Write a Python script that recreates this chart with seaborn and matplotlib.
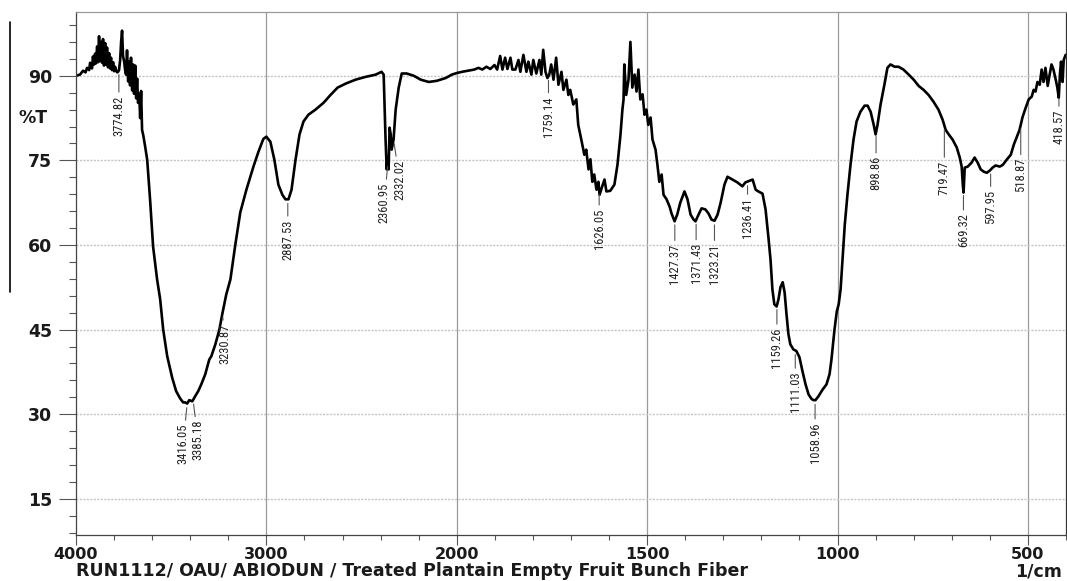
import numpy as np
import pandas as pd
import matplotlib
matplotlib.use("Agg")
import matplotlib.pyplot as plt
from matplotlib.lines import Line2D
from matplotlib.ticker import FixedLocator, NullFormatter
from matplotlib import font_manager as fm
import seaborn as sns

# ---------------- data ----------------
wavenumber = [
    4000, 3979, 3963, 3950, 3942, 3931, 3926, 3916, 3911, 3905, 3900, 3895, 3889, 3884, 3879, 3874,
    3868, 3863, 3858, 3853, 3847, 3842, 3837, 3832, 3826, 3821, 3816, 3811, 3805, 3800, 3795, 3789,
    3784, 3779, 3774, 3768, 3763, 3758, 3753, 3747, 3742, 3737, 3732, 3726, 3721, 3716, 3711, 3705,
    3700, 3695, 3689, 3684, 3679, 3674, 3668, 3663, 3658, 3653,
    3647, 3637, 3626, 3611, 3595, 3574, 3558, 3542, 3521, 3495, 3474, 3453, 3437, 3426, 3416, 3405,
    3389, 3374, 3358, 3342, 3321, 3300, 3289, 3268, 3247, 3232, 3211, 3189, 3163, 3137, 3105, 3068,
    3042, 3016, 3000, 2979, 2958, 2937, 2916, 2900, 2884, 2868, 2847, 2826, 2805, 2779, 2742, 2700,
    2663, 2626, 2584, 2532, 2479, 2426, 2395, 2384, 2374, 2368, 2363, 2358, 2353, 2347, 2342, 2332,
    2321, 2305, 2289, 2263, 2226, 2189, 2147, 2105, 2058, 2026, 1999, 1986, 1970, 1954, 1943, 1933,
    1922, 1912, 1901, 1894, 1886, 1880, 1873, 1867, 1859, 1854, 1846, 1838, 1833, 1825, 1817, 1812,
    1804, 1799, 1791, 1783, 1778, 1773, 1767, 1762, 1757, 1752, 1746, 1739, 1733, 1725, 1720, 1712,
    1707, 1702, 1694, 1686, 1681, 1673, 1665, 1660, 1654, 1649, 1644, 1639, 1633, 1628, 1625, 1618,
    1612, 1607, 1597, 1586, 1578, 1570, 1565, 1562, 1560, 1555, 1549, 1544, 1539, 1533, 1528, 1523,
    1518, 1512, 1507, 1502, 1497, 1491, 1486, 1478, 1473, 1468, 1462, 1457, 1449, 1441, 1436, 1428,
    1421, 1413, 1402, 1394, 1386, 1378, 1373, 1365, 1357, 1347, 1339, 1331, 1323, 1315, 1307, 1297,
    1289, 1276, 1263, 1250, 1242, 1231, 1223, 1215, 1208, 1197, 1189, 1181, 1176, 1171, 1166, 1160,
    1155, 1150, 1144, 1139, 1134, 1129, 1124, 1116, 1108, 1100, 1092, 1084, 1076, 1068, 1063, 1058,
    1050, 1039, 1029, 1021, 1016, 1008, 1002, 997, 992, 987, 981, 974, 966, 958, 950, 940,
    929, 921, 913, 905, 900, 895, 887, 877, 869, 861, 850, 840, 827, 813, 800, 787,
    774, 761, 748, 735, 724, 716, 708, 698, 687, 679, 674, 671, 669, 666, 658, 648,
    640, 632, 624, 616, 608, 600, 593, 585, 574, 566, 556, 545, 537, 529, 522, 514,
    506, 498, 490, 485, 480, 475, 469, 464, 459, 454, 448, 443, 438, 433, 427, 423,
    419, 416, 413, 409, 406, 401,
]
transmittance = [
    90.0, 90.2, 90.9, 90.6, 91.4, 91.0, 92.3, 91.3, 93.4, 92.0, 93.9, 92.2, 95.2, 92.4, 97.0, 92.6,
    96.0, 92.3, 96.5, 91.8, 95.8, 92.0, 95.0, 91.5, 94.0, 91.3, 93.2, 91.0, 92.4, 90.8, 91.6, 90.9,
    90.6, 90.7, 91.0, 92.8, 96.0, 98.0, 93.5, 92.5, 91.0, 90.2, 94.5, 89.0, 92.5, 88.3, 93.2, 87.4,
    92.0, 86.8, 91.8, 86.0, 89.5, 85.2, 86.8, 82.5, 87.3, 80.4,
    79.5, 77.5, 75.1, 68.1, 59.7, 53.9, 50.4, 45.0, 40.3, 36.5, 34.1, 32.8, 32.1, 32.1, 31.9, 32.5,
    32.3, 33.2, 34.1, 35.3, 37.1, 39.7, 40.3, 42.4, 45.0, 47.7, 51.2, 53.9, 60.1, 65.8, 69.8, 73.9,
    76.5, 78.8, 79.2, 78.3, 75.1, 70.7, 68.9, 68.1, 68.1, 69.8, 75.1, 79.6, 81.9, 83.1, 84.0, 85.2,
    86.6, 87.9, 88.6, 89.3, 89.8, 90.2, 90.7, 90.2, 78.7, 73.4, 75.5, 73.4, 80.8, 79.6, 76.9, 78.7,
    84.0, 87.9, 90.4, 90.4, 90.0, 89.3, 88.9, 89.1, 89.6, 90.2, 90.5, 90.7, 90.9, 91.1, 91.4, 91.1,
    91.6, 91.2, 91.9, 91.1, 93.5, 91.1, 93.2, 91.2, 93.2, 91.1, 91.1, 92.8, 90.7, 93.7, 90.7, 92.5,
    90.2, 92.8, 90.4, 92.8, 90.2, 94.6, 90.7, 89.6, 90.2, 92.0, 89.3, 93.2, 88.4, 90.7, 87.5, 89.3,
    86.6, 87.5, 84.9, 85.8, 81.3, 78.7, 76.0, 76.9, 73.4, 75.2, 71.2, 72.5, 69.8, 71.2, 68.9, 70.4,
    71.6, 69.5, 69.6, 70.7, 74.2, 79.6, 84.0, 85.8, 92.0, 86.6, 89.3, 96.0, 87.9, 90.2, 87.2, 91.1,
    85.8, 86.7, 83.1, 84.0, 81.3, 82.6, 78.7, 76.9, 74.2, 71.2, 72.5, 68.9, 68.1, 66.8, 65.6, 64.2,
    65.4, 67.5, 69.5, 68.1, 65.4, 64.5, 64.2, 65.4, 66.5, 66.3, 65.6, 64.5, 64.3, 65.4, 67.5, 70.7,
    72.1, 71.6, 71.1, 70.4, 71.1, 71.4, 71.6, 69.8, 69.5, 69.1, 66.3, 61.0, 57.4, 52.1, 49.5, 49.1,
    50.4, 52.5, 53.4, 51.6, 47.7, 44.2, 42.4, 41.5, 41.2, 40.1, 37.6, 35.3, 33.5, 32.7, 32.5, 32.5,
    33.2, 34.4, 35.3, 37.1, 39.7, 45.0, 48.2, 49.5, 52.1, 57.4, 63.6, 68.9, 74.2, 78.7, 81.9, 83.6,
    84.7, 84.7, 83.6, 81.3, 79.6, 81.3, 84.9, 88.4, 91.4, 92.0, 91.6, 91.6, 91.1, 90.2, 89.3, 88.2,
    87.5, 86.6, 85.4, 84.0, 82.2, 80.4, 79.6, 78.7, 77.3, 75.5, 73.9, 70.7, 69.3, 73.7, 73.9, 74.6,
    75.5, 74.6, 73.4, 73.0, 72.8, 73.2, 73.7, 74.1, 73.9, 74.2, 75.1, 76.0, 77.8, 79.2, 80.4, 82.7,
    84.3, 85.8, 86.3, 87.5, 87.2, 88.9, 88.4, 91.1, 88.9, 91.4, 88.2, 90.2, 92.0, 91.1, 89.3, 88.0,
    86.1, 90.2, 92.5, 88.9, 92.8, 93.7,
]

peak_labels = ["3774.82", "3416.05", "3385.18", "3230.87", "2887.53", "2360.95", "2332.02",
               "1759.14", "1626.05", "1427.37", "1371.43", "1323.21", "1236.41", "1159.26",
               "1111.03", "1058.96", "898.86", "719.47", "669.32", "597.95", "518.87", "418.57"]

x_major_ticks = [4000, 3000, 2000, 1500, 1000, 500]
y_major_ticks = [15, 30, 45, 60, 75, 90]

x_title = "RUN1112/ OAU/ ABIODUN / Treated Plantain Empty Fruit Bunch Fiber"
x_unit = "1/cm"
y_title = "%T"

# label layout (pixel offsets: horizontal shift, gap below curve)
label_dx_px = [0, -4, 5, 3, 0, -4, 6, 0, 0, 0, 0, 0, 0, 0, 0, 0, 0, 0, 0, 0, 0, 0]
label_gap_px = [25, 20, 20, 10, 20, 20, 20, 20, 18, 23, 23, 23, 16, 22, 21, 22, 24, 35, 22, 20, 33, 15]


def pick_narrow_font():
    for fam in ["Liberation Sans Narrow", "Arial Narrow", "Roboto Condensed", "Open Sans Condensed"]:
        try:
            fm.findfont(fm.FontProperties(family=fam), fallback_to_default=False)
            return dict(family=fam), 9
        except Exception:
            pass
    try:
        path = fm.findfont(fm.FontProperties(family="DejaVu Sans", stretch="condensed"),
                           fallback_to_default=False)
        if "ondensed" in path:
            return dict(family="DejaVu Sans", stretch="condensed"), 8.5
    except Exception:
        pass
    return dict(family="DejaVu Sans"), 7.5


label_font, label_size = pick_narrow_font()

df = pd.DataFrame({"wavenumber": wavenumber, "T": transmittance})

# ---------------- figure ----------------
sns.set_style("ticks")
plt.rcParams["font.family"] = ["DejaVu Sans"]

W, H = 1067, 581
fig = plt.figure(figsize=(W / 100, H / 100), dpi=100)
ax_l, ax_r, ax_t, ax_b = 76, 1066, 12, 535
ax = fig.add_axes([ax_l / W, 1 - ax_b / H, (ax_r - ax_l) / W, (ax_b - ax_t) / H])


# split wavenumber scale: 1000 cm-1 per unit above 2000, 500 cm-1 per unit below
def fwd(x):
    x = np.asarray(x, dtype=float)
    return np.where(x >= 2000, (x - 2000) / 1000.0, (x - 2000) / 500.0)


def inv(u):
    u = np.asarray(u, dtype=float)
    return np.where(u >= 0, 2000 + 1000.0 * u, 2000 + 500.0 * u)


ax.set_xscale("function", functions=(fwd, inv))

sns.lineplot(data=df, x="wavenumber", y="T", sort=False, estimator=None,
             color="black", linewidth=1.9, ax=ax)

ax.set_xlim(4000, 400)
ax.set_ylim(8.6, 101.3)

minor_x = list(range(3800, 2000, -200)) + list(range(1900, 399, -100))
minor_x = [v for v in minor_x if v not in x_major_ticks]
ax.xaxis.set_major_locator(FixedLocator(x_major_ticks))
ax.xaxis.set_minor_locator(FixedLocator(minor_x))
ax.xaxis.set_minor_formatter(NullFormatter())
ax.set_xticklabels([str(v) for v in x_major_ticks], fontweight="bold")
ax.yaxis.set_major_locator(FixedLocator(y_major_ticks))
ax.yaxis.set_minor_locator(FixedLocator([v for v in range(9, 101, 3) if v not in y_major_ticks]))
ax.set_yticklabels([str(v) for v in y_major_ticks], fontweight="bold")

ax.tick_params(axis="x", which="major", length=7.5, width=0.8, color="#555555", pad=1,
               labelsize=11.5, labelcolor="#1a1a1a")
ax.tick_params(axis="x", which="minor", length=3.8, width=0.8, color="#555555")
ax.tick_params(axis="y", which="major", length=12, width=0.8, color="#555555", pad=5,
               labelsize=12.5, labelcolor="#1a1a1a")
ax.tick_params(axis="y", which="minor", length=5, width=0.8, color="#555555")

# grid: solid vertical lines, dotted horizontal lines
for v in x_major_ticks[1:]:
    ax.axvline(v, color="#9a9a9a", lw=0.9, zorder=0)
for v in y_major_ticks:
    ax.axhline(v, color="#c4c4c4", lw=1.0, ls=(0, (1.5, 1.0)), zorder=0)

for side, col in [("left", "#444444"), ("bottom", "#444444"), ("top", "#9a9a9a"), ("right", "#333333")]:
    ax.spines[side].set_visible(True)
    ax.spines[side].set_color(col)
    ax.spines[side].set_linewidth(0.9)

base_pos = -(576 - ax_b) / (ax_b - ax_t)
ax.set_xlabel(x_title, loc="left", fontsize=12.5, fontweight="bold", color="#1a1a1a",
              va="baseline")
ax.xaxis.set_label_coords(0.0, base_pos)
ax.text(0.996, base_pos, x_unit, transform=ax.transAxes,
        ha="right", va="baseline", fontsize=12.5, fontweight="bold", color="#1a1a1a")
ax.set_ylabel(y_title, rotation=0, fontsize=12.5, fontweight="bold", color="#1a1a1a",
              ha="center", va="center")
ax.yaxis.set_label_coords((33 - ax_l) / (ax_r - ax_l), (ax_b - 118) / (ax_b - ax_t))

# peak annotations
wn_arr = np.array(wavenumber, dtype=float)[::-1]
t_arr = np.array(transmittance, dtype=float)[::-1]
for lab, dx, gap in zip(peak_labels, label_dx_px, label_gap_px):
    w = float(lab)
    t = float(np.interp(w, wn_arr, t_arr))
    ax.annotate(lab, xy=(w, t), xytext=(dx * 0.72, -gap * 0.72), textcoords="offset points",
                rotation=90, ha="center", va="top", fontsize=label_size, color="#222222",
                arrowprops=dict(arrowstyle="-", color="#555555", lw=0.8, shrinkA=0, shrinkB=3),
                **label_font)

# stray vertical rule at the left edge of the scanned page
fig.add_artist(Line2D([10 / W, 10 / W], [1 - 22 / H, 1 - 292 / H], color="black", lw=1.2))

fig.savefig("out.png", dpi=100)
